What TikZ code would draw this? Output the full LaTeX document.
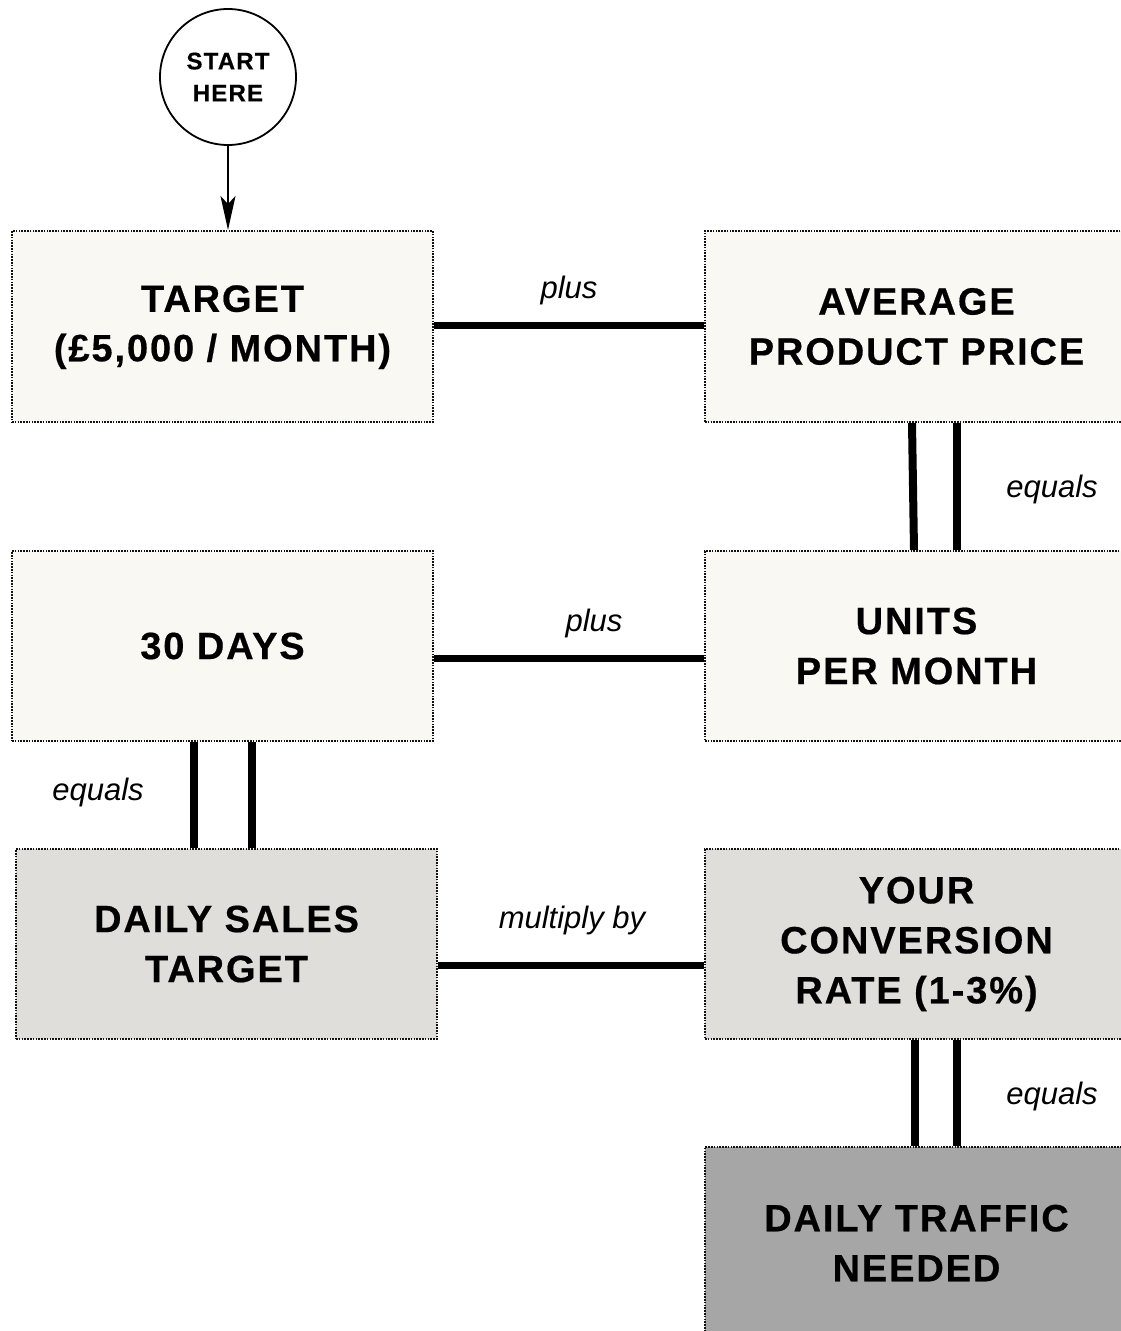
\documentclass[tikz,border=0pt]{standalone}
\usepackage{fontspec}
\setmainfont{Liberation Sans}
\newfontfamily\boxfont[LetterSpace=5, FakeBold=0.5]{Liberation Sans Bold}
\newfontfamily\startfont[LetterSpace=5, FakeBold=0.4]{Liberation Sans Bold}
\usetikzlibrary{arrows.meta}
\definecolor{cream}{HTML}{FAF8F3}
\definecolor{lightgrey}{HTML}{DFDEDA}
\definecolor{midgrey}{HTML}{A6A6A6}
\definecolor{edge}{HTML}{111111}
\tikzset{
  stagebox/.style={rectangle, draw=edge, line width=2pt,
    dash pattern=on 1.6pt off 1.2pt, minimum height=191pt,
    inner sep=0pt, align=center,
    font=\boxfont\fontsize{38}{50}\selectfont},
  leftbox/.style={stagebox, minimum width=421pt},
  rightbox/.style={stagebox, minimum width=423pt},
  link/.style={line width=7pt},
  bar/.style={line width=8pt},
  lbl/.style={font=\itshape\fontsize{31}{36}\selectfont, anchor=base, inner sep=0pt},
}
\begin{document}
\begin{tikzpicture}[x=1pt,y=-1pt]
\useasboundingbox (0,0) rectangle (1120,1331);

% start marker
\node[circle, draw, line width=1.8pt, fill=white, minimum size=136pt, inner sep=0pt,
      align=center, font=\startfont\fontsize{24}{32}\selectfont] (start) at (228,77) {START\\HERE};

% stages
\node[leftbox, fill=cream] (target) at (222.5,326.5) {\raisebox{-5pt}{\begin{tabular}{@{}c@{}}TARGET\\[-0.5pt](£5,000 / MONTH)\end{tabular}}};
\node[rightbox, fill=cream] (price) at (916.5,326.5) {AVERAGE\\PRODUCT PRICE};
\node[leftbox, fill=cream, minimum height=190pt] (days) at (222.5,646) {30 DAYS};
\node[rightbox, fill=cream, minimum height=190pt] (units) at (916.5,646) {UNITS\\PER MONTH};
\node[leftbox, fill=lightgrey, minimum height=190pt] (daily) at (226.5,944) {DAILY SALES\\TARGET};
\node[rightbox, fill=lightgrey, minimum height=190pt] (conv) at (916.5,944) {YOUR\\CONVERSION\\RATE (1-3\%)};
\node[rightbox, fill=midgrey, minimum height=192pt] (traffic) at (916.5,1243) {DAILY TRAFFIC\\NEEDED};

% arrow into the first stage
\draw[line width=1.8pt, -{Stealth[length=34pt, width=15pt, inset=8pt]}]
  (start.south) -- (start.south |- target.north);

% horizontal links
\draw[link] ([yshift=1.5]target.east) -- ([yshift=1.5]price.west);
\draw[link] ([yshift=-12]days.east) -- ([yshift=-12]units.west);
\draw[link] ([yshift=-21]daily.east) -- ([yshift=-21]conv.west);

% double bars (equals)
\draw[bar] ([xshift=-4.5]price.south) -- ([xshift=-2.5]units.north);
\draw[bar] ([xshift=40.5]price.south) -- ([xshift=40.5]units.north);
\draw[bar] ([xshift=-28.5]days.south) -- ([xshift=-32.5]daily.north);
\draw[bar] ([xshift=29.5]days.south) -- ([xshift=25.5]daily.north);
\draw[bar] ([xshift=-1.5]conv.south) -- ([xshift=-1.5]traffic.north);
\draw[bar] ([xshift=40.5]conv.south) -- ([xshift=40.5]traffic.north);

% connector labels
\node[lbl] (l1) at (569,298) {plus};
\node[lbl] (l2) at (594,631) {plus};
\node[lbl] (l3) at (572,928) {multiply by};
\node[lbl] (l4) at (1052,497) {equals};
\node[lbl] (l5) at (98,800) {equals};
\node[lbl] (l6) at (1052,1104) {equals};
\end{tikzpicture}
\end{document}
